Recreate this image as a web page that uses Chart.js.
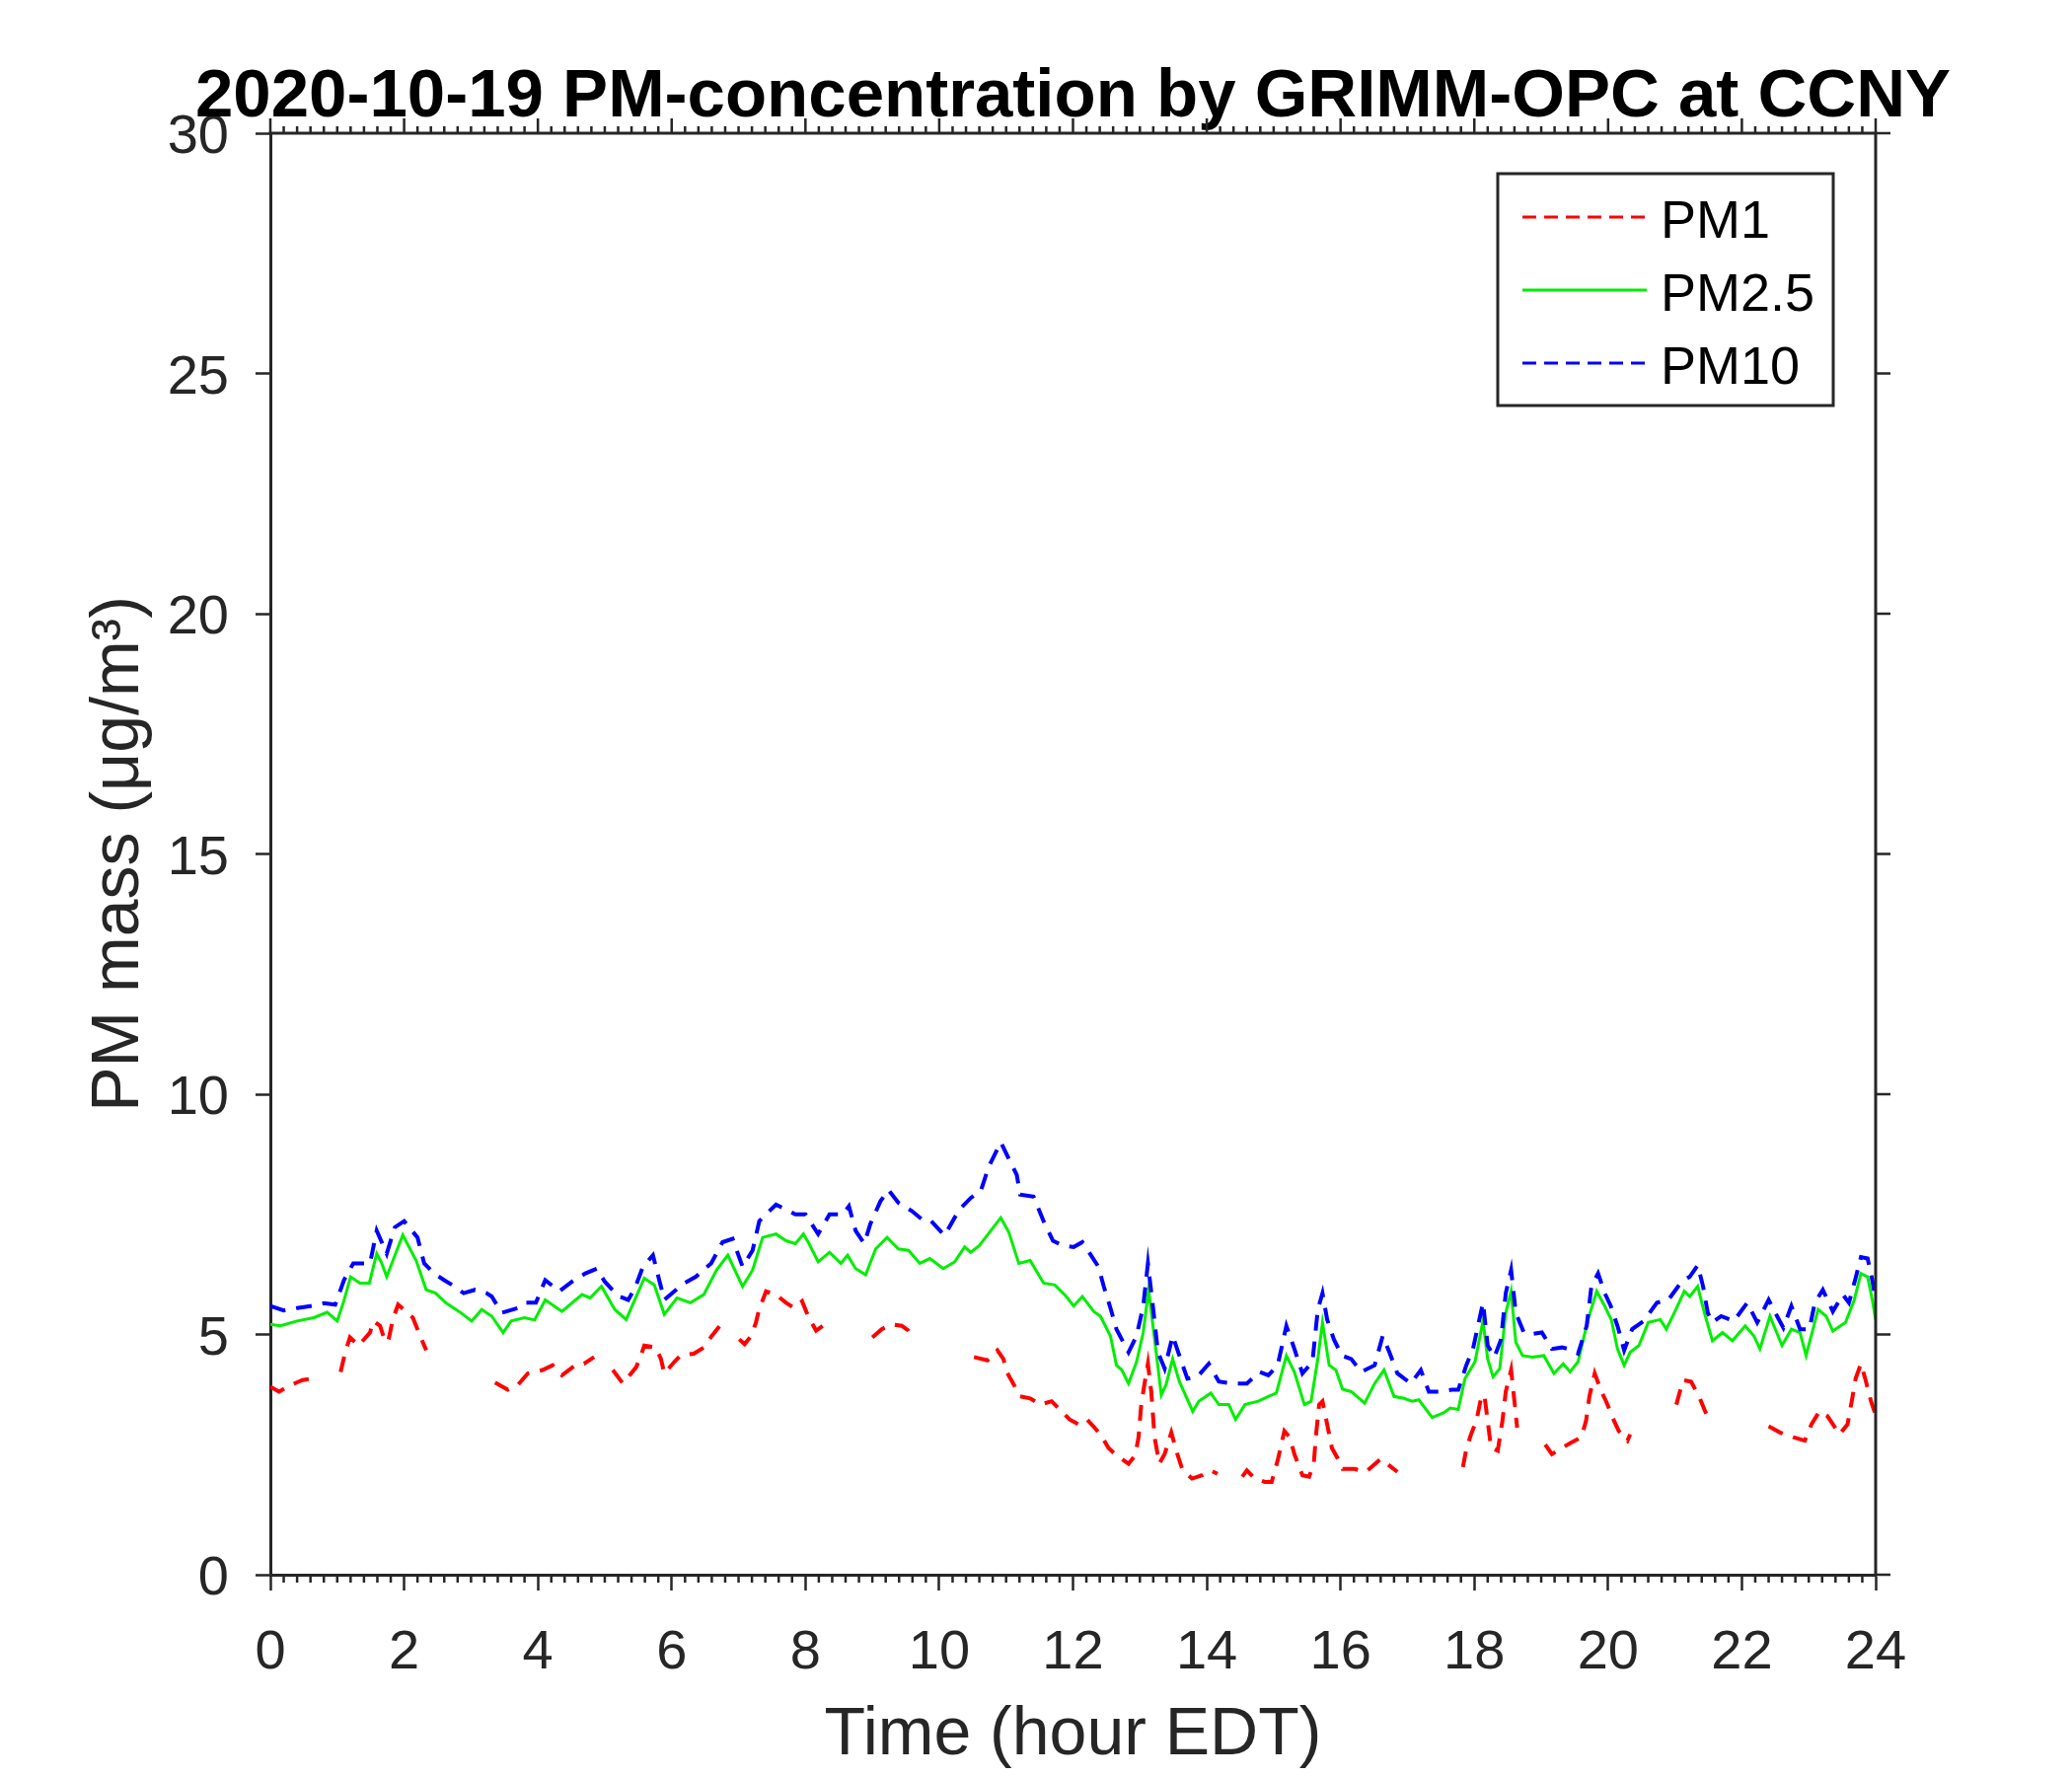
<!DOCTYPE html>
<html>
<head>
<meta charset="utf-8">
<script src="https://cdn.jsdelivr.net/npm/chart.js@4/dist/chart.umd.min.js"></script>
<style>
  html, body { margin: 0; padding: 0; background: #ffffff; }
  #wrap { width: 2100px; height: 1800px; }
</style>
</head>
<body>
<div id="wrap"><canvas id="c" width="2100" height="1800"></canvas></div>
<script>
// ---------------- DATA ----------------
const chartTitle = '2020-10-19 PM-concentration by GRIMM-OPC at CCNY';
const xAxisTitle = 'Time (hour EDT)';
const yAxisTitle = 'PM mass (\u03bcg/m\u00b3)';
const seriesNames = ['PM1', 'PM2.5', 'PM10'];

const xTickValues = [0, 2, 4, 6, 8, 10, 12, 14, 16, 18, 20, 22, 24];
const yTickValues = [0, 5, 10, 15, 20, 25, 30];

// PM1 (null = no visible trace)
const pm1Hours = [0.0,0.13,0.31,0.48,0.63,0.8,1.05,1.12,1.19,1.32,1.49,1.54,1.64,1.69,1.76,1.83,1.91,2.13,2.2,2.33,2.8,
  3.36,3.55,3.7,3.85,4.07,4.22,4.36,4.56,4.69,4.84,5.0,5.12,5.27,5.47,5.54,5.59,5.76,5.84,5.89,6.04,6.13,6.33,6.48,6.6,6.72,6.85,
  7.01,7.09,7.19,7.26,7.3,7.41,7.56,7.71,7.83,7.95,8.05,8.16,8.33,8.6,9.0,9.14,9.29,9.44,9.54,9.61,10.0,
  10.52,10.72,10.87,10.96,11.01,11.09,11.21,11.36,11.51,11.68,11.95,12.08,12.21,12.33,12.43,12.53,12.65,12.83,12.93,12.98,
  13.02,13.07,13.12,13.17,13.22,13.29,13.37,13.47,13.56,13.64,13.78,13.93,14.06,14.16,14.35,14.53,14.6,14.72,14.87,14.97,
  15.06,15.16,15.24,15.31,15.43,15.53,15.6,15.63,15.68,15.73,15.8,15.87,15.95,16.03,16.21,16.38,16.6,16.73,16.85,17.3,
  17.83,17.88,17.95,18.03,18.1,18.15,18.2,18.25,18.35,18.42,18.47,18.55,18.6,18.64,18.85,19.06,19.16,19.31,19.45,19.6,
  19.67,19.72,19.8,19.9,19.97,20.09,20.16,20.29,20.33,20.6,21.02,21.12,21.24,21.36,21.49,21.9,
  22.4,22.57,22.77,22.94,23.04,23.16,23.28,23.46,23.58,23.65,23.7,23.78,23.85,23.93,24.0];
const pm1Values = [3.91,3.81,3.95,4.05,4.08,null,4.22,4.63,4.94,4.77,5.04,5.28,5.18,4.97,4.84,5.31,5.62,5.35,5.11,4.67,null,
  4.0,3.85,3.95,4.19,4.26,4.36,4.15,4.36,4.39,4.53,null,4.26,3.98,4.32,4.56,4.77,4.73,4.49,4.19,4.43,4.56,4.6,4.73,4.97,5.18,null,
  4.9,4.8,4.97,5.25,5.48,5.9,5.83,5.66,5.55,5.69,5.35,5.08,5.25,null,4.94,5.11,5.21,5.18,5.08,4.9,null,
  4.53,4.46,4.67,4.49,4.22,4.02,3.71,3.67,3.54,3.61,3.23,3.13,3.23,3.05,2.88,2.64,2.48,2.31,2.48,2.86,
  3.54,3.98,4.39,3.81,2.86,2.31,2.51,2.96,2.51,2.17,2.0,2.07,2.17,2.1,null,2.04,2.17,2.0,1.93,1.93,
  2.38,2.99,2.86,2.51,2.07,2.04,2.31,2.86,3.54,3.61,3.13,2.64,2.44,2.2,2.2,2.14,2.41,2.27,2.14,null,
  2.24,2.61,2.92,3.2,3.67,3.74,3.2,2.64,2.58,3.2,3.81,4.26,3.61,3.06,null,2.71,2.51,2.64,2.75,2.86,
  3.2,3.71,4.19,3.81,3.61,3.2,2.99,2.79,2.92,null,3.54,4.05,4.02,3.71,3.27,null,
  3.09,2.96,2.86,2.79,3.13,3.4,3.3,2.92,3.13,3.67,4.08,4.39,4.05,3.61,3.33];

// PM2.5
const pm25Hours = [0.0,0.15,0.4,0.65,0.85,1.0,1.1,1.2,1.34,1.48,1.59,1.66,1.74,1.85,1.98,2.18,2.33,2.47,2.62,2.82,3.01,3.16,3.31,3.48,3.6,3.8,3.95,
  4.11,4.36,4.66,4.78,4.95,5.15,5.32,5.59,5.74,5.89,6.08,6.28,6.48,6.67,6.84,7.06,7.21,7.36,7.56,7.71,7.85,7.97,8.05,8.19,8.36,8.53,8.63,8.75,8.9,
  9.05,9.22,9.39,9.54,9.71,9.86,10.06,10.23,10.38,10.47,10.6,10.77,10.92,11.04,11.19,11.36,11.56,11.73,11.9,12.01,12.14,12.31,12.41,12.56,12.65,12.73,12.83,12.95,
  13.05,13.13,13.22,13.32,13.39,13.49,13.59,13.79,13.88,14.06,14.18,14.33,14.43,14.57,14.77,14.92,15.04,15.19,15.31,15.46,15.56,15.66,15.73,15.83,15.93,
  16.03,16.16,16.36,16.51,16.65,16.8,16.95,17.07,17.17,17.37,17.54,17.64,17.76,17.86,18.01,18.13,18.2,18.28,18.38,18.47,18.55,18.62,18.72,18.87,
  19.04,19.19,19.33,19.43,19.55,19.7,19.83,19.95,20.05,20.14,20.24,20.33,20.46,20.6,20.78,20.87,21.0,21.14,21.22,21.34,21.44,21.56,21.71,21.86,
  22.05,22.18,22.27,22.42,22.6,22.74,22.87,22.96,23.14,23.26,23.36,23.55,23.68,23.78,23.88,23.95,24.0];
const pm25Values = [5.21,5.18,5.28,5.35,5.46,5.28,5.7,6.2,6.07,6.07,6.68,6.5,6.2,6.6,7.07,6.54,5.93,5.86,5.66,5.48,5.28,5.52,5.38,5.04,5.28,5.35,5.3,
  5.72,5.48,5.83,5.76,6.0,5.52,5.31,6.17,6.03,5.42,5.76,5.66,5.83,6.34,6.65,6.0,6.34,7.02,7.09,6.95,6.89,7.09,6.9,6.51,6.71,6.48,6.65,6.37,6.24,
  6.78,7.02,6.78,6.75,6.48,6.58,6.37,6.51,6.82,6.71,6.85,7.16,7.43,7.13,6.48,6.54,6.07,6.03,5.79,5.59,5.79,5.48,5.38,4.97,4.36,4.26,3.98,4.43,
  5.04,5.93,4.9,3.74,3.95,4.49,4.02,3.4,3.61,3.78,3.54,3.54,3.23,3.54,3.61,3.71,3.78,4.56,4.22,3.54,3.61,4.49,5.25,4.36,4.26,
  3.86,3.81,3.57,3.98,4.26,3.71,3.67,3.61,3.64,3.27,3.37,3.47,3.44,4.08,4.43,5.28,4.49,4.12,4.29,5.45,5.9,4.84,4.56,4.53,
  4.56,4.19,4.39,4.22,4.43,5.31,5.9,5.59,5.3,4.7,4.36,4.63,4.77,5.25,5.31,5.11,5.48,5.9,5.79,6.0,5.45,4.87,5.04,4.87,
  5.18,4.97,4.7,5.38,4.77,5.11,5.04,4.56,5.52,5.38,5.07,5.25,5.72,6.27,6.2,5.72,5.31];

// PM10
const pm10Hours = [0.0,0.2,0.4,0.6,0.8,0.97,1.1,1.24,1.34,1.49,1.59,1.74,1.86,2.0,2.2,2.3,2.45,2.6,2.72,2.89,3.06,3.23,3.31,3.46,3.7,3.8,3.97,
  4.11,4.32,4.51,4.71,4.88,5.0,5.2,5.35,5.45,5.57,5.72,5.82,5.89,6.04,6.19,6.36,6.59,6.76,6.91,7.06,7.21,7.31,7.46,7.56,7.71,7.85,8.0,8.19,8.36,8.56,8.65,8.75,8.88,8.97,
  9.12,9.24,9.39,9.59,9.77,9.88,10.08,10.23,10.33,10.47,10.62,10.74,10.92,11.04,11.16,11.21,11.41,11.56,11.7,11.85,12.01,12.14,12.24,12.38,12.46,12.56,12.65,12.83,12.95,
  13.05,13.12,13.2,13.27,13.37,13.49,13.59,13.71,13.86,14.03,14.18,14.38,14.6,14.79,14.92,15.06,15.19,15.31,15.43,15.58,15.66,15.73,15.8,15.9,
  16.02,16.16,16.31,16.51,16.63,16.73,16.85,17.05,17.2,17.32,17.49,17.66,17.76,17.88,17.98,18.13,18.2,18.3,18.4,18.47,18.55,18.62,18.74,18.87,
  19.01,19.16,19.31,19.4,19.55,19.68,19.75,19.85,19.95,20.04,20.14,20.24,20.36,20.53,20.73,20.9,21.1,21.22,21.34,21.42,21.49,21.56,21.69,21.88,
  22.08,22.23,22.4,22.5,22.62,22.74,22.87,23.01,23.09,23.21,23.36,23.51,23.6,23.7,23.78,23.88,23.95,24.0];
const pm10Values = [5.59,5.5,5.55,5.59,5.65,5.62,6.13,6.48,6.48,6.48,7.16,6.68,7.23,7.36,7.02,6.48,6.27,6.13,6.03,5.86,5.93,5.86,5.79,5.45,5.55,5.66,5.66,
  6.13,5.9,6.1,6.27,6.37,6.1,5.8,5.72,5.96,6.41,6.65,6.1,5.72,5.9,6.07,6.2,6.48,6.92,6.99,6.41,6.75,7.36,7.57,7.7,7.6,7.5,7.5,7.09,7.5,7.5,7.67,7.16,6.89,7.3,
  7.77,8.01,7.74,7.57,7.36,7.36,7.06,7.43,7.64,7.84,7.98,8.49,9.0,8.66,8.32,7.91,7.87,7.36,6.95,6.85,6.82,6.92,6.71,6.41,6.0,5.55,5.11,4.63,4.97,
  5.59,6.48,5.52,4.63,4.29,4.97,4.56,4.08,4.12,4.39,4.02,3.98,3.98,4.22,4.15,4.36,5.18,4.7,4.19,4.43,5.52,5.86,5.31,4.9,
  4.56,4.49,4.22,4.36,4.97,4.63,4.19,3.98,4.26,3.81,3.81,3.85,3.85,4.36,4.7,5.66,4.77,4.53,4.9,5.86,6.34,5.45,5.04,5.01,
  5.04,4.7,4.73,4.7,4.6,5.18,6.0,6.27,5.86,5.59,5.18,4.67,5.11,5.28,5.66,5.72,6.1,6.2,6.44,6.0,5.45,5.25,5.38,5.28,
  5.66,5.25,5.72,5.45,5.14,5.59,5.11,5.11,5.66,5.93,5.48,5.83,5.66,6.17,6.61,6.58,6.13,5.72];

// ---------------- CHART ----------------
const AXIS_COLOR = '#262626';
const FONT = '"Liberation Sans", Arial, Helvetica, sans-serif';

function toPoints(xs, ys) {
  return xs.map((x, i) => ({ x: x, y: ys[i] }));
}

const framePlugin = {
  id: 'frameAndLegend',
  afterDraw(chart) {
    const ctx = chart.ctx;
    const a = chart.chartArea;
    const xs = chart.scales.x, ys = chart.scales.y;
    ctx.save();
    // title, centred over the plot box
    ctx.fillStyle = '#000000';
    ctx.font = 'bold 69px ' + FONT;
    ctx.textAlign = 'center';
    ctx.textBaseline = 'alphabetic';
    ctx.fillText(chartTitle, (a.left + a.right) / 2, a.top - 17);

    ctx.strokeStyle = AXIS_COLOR;
    ctx.lineWidth = 3;
    ctx.lineCap = 'butt';
    // top and right frame lines
    ctx.beginPath();
    ctx.moveTo(a.left - 1.5, a.top);
    ctx.lineTo(a.right + 1.5, a.top);
    ctx.moveTo(a.right, a.top);
    ctx.lineTo(a.right, a.bottom + 1.5);
    ctx.stroke();
    // x ticks: minor every 0.2 h on bottom; major+minor on top
    ctx.lineWidth = 2.5;
    ctx.beginPath();
    for (let k = 0; k <= 120; k++) {
      const v = k * 0.2;
      const px = xs.getPixelForValue(v);
      const major = (k % 10 === 0);
      if (!major) {
        ctx.moveTo(px, a.bottom);
        ctx.lineTo(px, a.bottom + 8);
      }
      ctx.moveTo(px, a.top);
      ctx.lineTo(px, a.top - (major ? 15 : 7));
    }
    // right y ticks
    yTickValues.forEach(v => {
      const py = ys.getPixelForValue(v);
      ctx.moveTo(a.right, py);
      ctx.lineTo(a.right + 15, py);
    });
    ctx.stroke();

    // legend box
    const bx = a.right - 383, by = a.top + 41, bw = 340, bh = 235;
    ctx.fillStyle = '#ffffff';
    ctx.fillRect(bx, by, bw, bh);
    ctx.lineWidth = 3;
    ctx.strokeStyle = AXIS_COLOR;
    ctx.strokeRect(bx, by, bw, bh);
    ctx.font = '54px ' + FONT;
    ctx.textBaseline = 'middle';
    ctx.textAlign = 'left';
    chart.data.datasets.forEach((ds, i) => {
      const rowY = by + 44 + i * 74;
      ctx.beginPath();
      ctx.strokeStyle = ds.borderColor;
      ctx.lineWidth = 3;
      ctx.setLineDash(ds.borderDash && ds.borderDash.length ? [14, 8] : []);
      ctx.moveTo(bx + 25, rowY);
      ctx.lineTo(bx + 151, rowY);
      ctx.stroke();
      ctx.setLineDash([]);
      ctx.fillStyle = '#000000';
      ctx.fillText(ds.label, bx + 165, rowY + 6);
    });
    ctx.restore();
  }
};

const ctx = document.getElementById('c').getContext('2d');
new Chart(ctx, {
  type: 'line',
  data: {
    datasets: [
      { label: seriesNames[0], data: toPoints(pm1Hours, pm1Values), borderColor: '#ff0000',
        borderWidth: 4, borderDash: [16, 11], pointRadius: 0, tension: 0, spanGaps: false, fill: false, order: 3 },
      { label: seriesNames[1], data: toPoints(pm25Hours, pm25Values), borderColor: '#00ee00',
        borderWidth: 3, borderDash: [], pointRadius: 0, tension: 0, fill: false, order: 2 },
      { label: seriesNames[2], data: toPoints(pm10Hours, pm10Values), borderColor: '#0000ff',
        borderWidth: 4, borderDash: [16, 11], pointRadius: 0, tension: 0, fill: false, order: 1 }
    ]
  },
  options: {
    responsive: false,
    devicePixelRatio: 1,
    animation: false,
    layout: { padding: { left: 0, right: 199, top: 135, bottom: 0 } },
    plugins: {
      legend: { display: false },
      tooltip: { enabled: false },
      title: { display: false }
    },
    scales: {
      x: {
        type: 'linear',
        min: 0, max: 24,
        afterFit(scale) { scale.height = 204; scale.paddingLeft = 0; scale.paddingRight = 0; },
        afterBuildTicks(scale) { scale.ticks = xTickValues.map(v => ({ value: v })); },
        ticks: {
          autoSkip: false, maxRotation: 0, padding: 30, color: AXIS_COLOR,
          font: { family: FONT, size: 56 },
          callback: (v) => String(v)
        },
        border: { display: true, color: AXIS_COLOR, width: 3 },
        grid: { display: true, drawOnChartArea: false, drawTicks: true, tickLength: 16,
                tickColor: AXIS_COLOR, tickWidth: 2.5, color: AXIS_COLOR },
        title: { display: true, text: xAxisTitle, color: AXIS_COLOR,
                 font: { family: FONT, size: 68, lineHeight: 1.2 }, padding: { top: 0, bottom: 0 } }
      },
      y: {
        type: 'linear',
        min: 0, max: 30,
        afterFit(scale) { scale.width = 274; scale.paddingTop = 0; scale.paddingBottom = 0; },
        afterBuildTicks(scale) { scale.ticks = yTickValues.map(v => ({ value: v })); },
        ticks: {
          autoSkip: false, padding: 27, labelOffset: 5, color: AXIS_COLOR,
          font: { family: FONT, size: 56 },
          callback: (v) => String(v)
        },
        border: { display: true, color: AXIS_COLOR, width: 3 },
        grid: { display: true, drawOnChartArea: false, drawTicks: true, tickLength: 15,
                tickColor: AXIS_COLOR, tickWidth: 2.5, color: AXIS_COLOR },
        title: { display: true, text: yAxisTitle, color: AXIS_COLOR,
                 font: { family: FONT, size: 68, lineHeight: 1.2 }, padding: { top: 80, bottom: 0 } }
      }
    }
  },
  plugins: [framePlugin]
});
</script>
</body>
</html>
